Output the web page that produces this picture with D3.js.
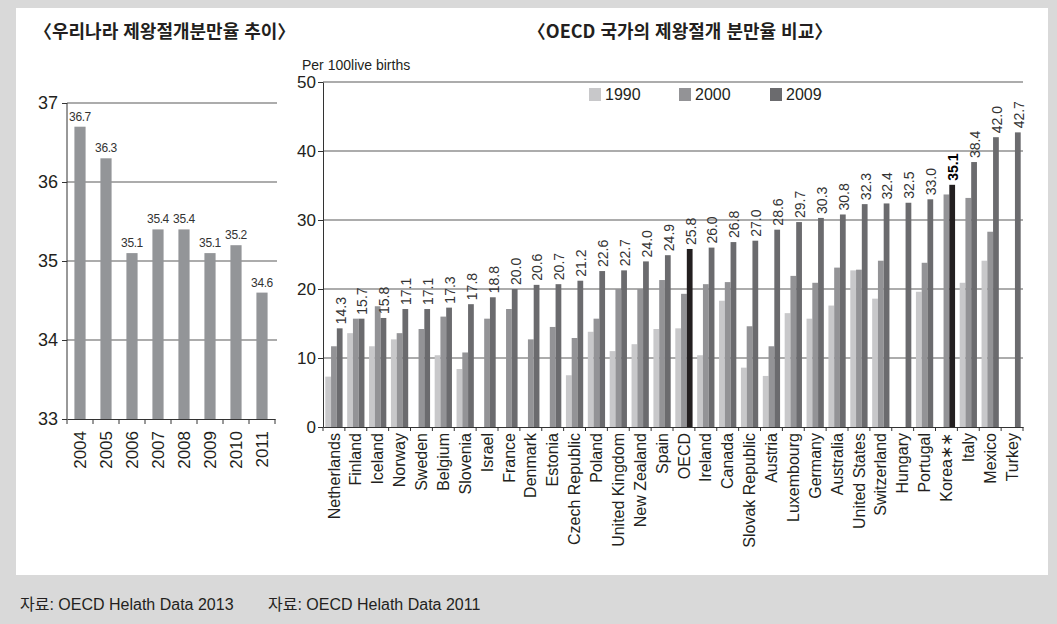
<!DOCTYPE html>
<html lang="ko">
<head>
  <meta charset="UTF-8">
  <title>제왕절개분만율</title>
  <style>
    body {
      margin: 0;
      background-color: #d9d9d9;
    }
    svg text {
      font-family: "Liberation Sans", Arial, "Noto Sans CJK KR", sans-serif;
      fill: #231f20;
    }
    .title {
      font-family: "Noto Sans CJK KR", sans-serif !important;
      font-size: 18px;
      font-weight: bold;
    }
    .grid line {
      stroke: #5a5a5a;
      stroke-width: 1.2;
    }
    .axis path, .axis line {
      stroke: #333;
    }
  </style>
</head>
<body>
  <svg id="chart" width="1057" height="624"></svg>
  <script src="https://d3js.org/d3.v7.min.js"></script>
  <script>
    // left: Korea trend
    const krYears = ['2004', '2005', '2006', '2007', '2008', '2009', '2010', '2011'];
    const krRates = [36.7, 36.3, 35.1, 35.4, 35.4, 35.1, 35.2, 34.6];
    const krTicks = [33, 34, 35, 36, 37];

    // right: OECD comparison
    const countries = ['Netherlands', 'Finland', 'Iceland', 'Norway', 'Sweden', 'Belgium', 'Slovenia',
      'Israel', 'France', 'Denmark', 'Estonia', 'Czech Republic', 'Poland', 'United Kingdom',
      'New Zealand', 'Spain', 'OECD', 'Ireland', 'Canada', 'Slovak Republic', 'Austria',
      'Luxembourg', 'Germany', 'Australia', 'United States', 'Switzerland', 'Hungary',
      'Portugal', 'Korea∗∗', 'Italy', 'Mexico', 'Turkey'];
    const v1990 = [7.3, 13.6, 11.7, 12.7, null, 10.4, 8.4, null, null, null, null, 7.5, 13.8, 11.0,
      12.0, 14.2, 14.3, 10.4, 18.3, 8.6, 7.4, 16.5, 15.7, 17.6, 22.7, 18.6, null, 19.6, null,
      20.9, 24.1, null];
    const v2000 = [11.7, 15.7, 17.5, 13.6, 14.2, 16.0, 10.8, 15.7, 17.1, 12.7, 14.5, 12.9, 15.7,
      20.0, 20.0, 21.3, 19.3, 20.7, 21.0, 14.6, 11.7, 21.9, 20.9, 23.1, 22.8, 24.1, null, 23.8,
      33.7, 33.2, 28.3, null];
    const v2009 = [14.3, 15.7, 15.8, 17.1, 17.1, 17.3, 17.8, 18.8, 20.0, 20.6, 20.7, 21.2, 22.6,
      22.7, 24.0, 24.9, 25.8, 26.0, 26.8, 27.0, 28.6, 29.7, 30.3, 30.8, 32.3, 32.4, 32.5, 33.0,
      35.1, 38.4, 42.0, 42.7];
    const seriesKeys = ['1990', '2000', '2009'];
    const highlighted = ['OECD', 'Korea∗∗'];
    const oecdTicks = [0, 10, 20, 30, 40, 50];

    const colors = { '1990': '#c8c8ca', '2000': '#939396', '2009': '#6b6b6e' };
    const highlightColor = '#231f20';

    const svg = d3.select('#chart');

    svg.append('rect').attr('width', 1057).attr('height', 624).attr('fill', '#d9d9d9');
    svg.append('rect').attr('x', 16).attr('y', 8).attr('width', 1032).attr('height', 567).attr('fill', '#fff');

    // ---------- left chart ----------
    const xL = d3.scaleBand().domain(krYears).range([67, 275]);
    const yL = d3.scaleLinear().domain([33, 37]).range([419, 103]);
    const barW = xL.bandwidth() * 0.43;

    svg.append('text')
      .attr('class', 'title')
      .attr('x', 34)
      .attr('y', 38)
      .text('〈우리나라 제왕절개분만율 추이〉');

    svg.append('g')
      .attr('class', 'grid')
      .selectAll('line')
      .data(krTicks.slice(1))
      .enter()
      .append('line')
      .attr('x1', 67).attr('x2', 277)
      .attr('y1', d => yL(d)).attr('y2', d => yL(d));

    svg.selectAll('.kr-bar')
      .data(krRates)
      .enter()
      .append('rect')
      .attr('class', 'kr-bar')
      .attr('x', (d, i) => xL(krYears[i]) + (xL.bandwidth() - barW) / 2)
      .attr('y', d => yL(d))
      .attr('width', barW)
      .attr('height', d => yL(33) - yL(d))
      .attr('fill', '#939598');

    svg.selectAll('.kr-label')
      .data(krRates)
      .enter()
      .append('text')
      .attr('class', 'kr-label')
      .attr('x', (d, i) => xL(krYears[i]) + xL.bandwidth() / 2)
      .attr('y', d => yL(d) - 6)
      .attr('text-anchor', 'middle')
      .attr('font-size', 12)
      .attr('letter-spacing', -0.4)
      .style('fill', '#333')
      .text(d => d.toFixed(1));

    const yAxisL = svg.append('g')
      .attr('class', 'axis')
      .attr('transform', 'translate(67,0)')
      .call(d3.axisLeft(yL).tickValues(krTicks).tickFormat(d3.format('d')).tickSize(5).tickSizeOuter(0));
    yAxisL.selectAll('text').attr('font-size', 18).attr('x', -9);
    yAxisL.select('.domain').attr('d', `M0,${yL(33)}V${yL(37)}`);

    const xAxisL = svg.append('g')
      .attr('class', 'axis')
      .attr('transform', `translate(0,${yL(33)})`)
      .call(d3.axisBottom(xL).tickSize(0).tickSizeOuter(0));
    xAxisL.selectAll('text')
      .attr('font-size', 17)
      .attr('transform', 'rotate(-90)')
      .attr('text-anchor', 'end')
      .attr('x', -12)
      .attr('y', 0)
      .attr('dy', '0.35em');
    xAxisL.selectAll('.bound')
      .data(krYears.concat(['end']))
      .enter()
      .append('line')
      .attr('class', 'bound')
      .attr('x1', (d, i) => 67 + i * xL.step())
      .attr('x2', (d, i) => 67 + i * xL.step())
      .attr('y1', 0).attr('y2', 5)
      .attr('stroke', '#333');

    // ---------- right chart ----------
    const x0 = d3.scaleBand().domain(countries).range([323, 1023]);
    const x1 = d3.scaleBand().domain(seriesKeys).range([0, x0.bandwidth()]).paddingOuter(0.4);
    const yR = d3.scaleLinear().domain([0, 50]).range([427, 82]);

    svg.append('text')
      .attr('class', 'title')
      .attr('x', 680)
      .attr('y', 38)
      .attr('text-anchor', 'middle')
      .text('〈OECD 국가의 제왕절개 분만율 비교〉');

    svg.append('text')
      .attr('x', 302)
      .attr('y', 70)
      .attr('font-size', 14)
      .text('Per 100live births');

    svg.append('g')
      .attr('class', 'grid')
      .selectAll('line')
      .data(oecdTicks.slice(1))
      .enter()
      .append('line')
      .attr('x1', 323).attr('x2', 1023)
      .attr('y1', d => yR(d)).attr('y2', d => yR(d));

    const seriesData = { '1990': v1990, '2000': v2000, '2009': v2009 };

    const groups = svg.selectAll('.country')
      .data(countries)
      .enter()
      .append('g')
      .attr('class', 'country')
      .attr('transform', d => `translate(${x0(d)},0)`);

    groups.selectAll('rect')
      .data((c, i) => seriesKeys.map(k => ({ key: k, country: c, value: seriesData[k][i] })))
      .enter()
      .filter(d => d.value != null)
      .append('rect')
      .attr('x', d => x1(d.key))
      .attr('y', d => yR(d.value))
      .attr('width', x1.bandwidth())
      .attr('height', d => yR(0) - yR(d.value))
      .attr('fill', d => (d.key === '2009' && highlighted.includes(d.country)) ? highlightColor : colors[d.key]);

    svg.selectAll('.val')
      .data(v2009)
      .enter()
      .append('text')
      .attr('class', 'val')
      .attr('transform', (d, i) => {
        const cx = x0(countries[i]) + x1('2009') + x1.bandwidth() / 2 + 1;
        return `translate(${cx},${yR(d) - 4}) rotate(-90)`;
      })
      .attr('dy', '0.35em')
      .attr('font-size', 14)
      .attr('font-weight', (d, i) => countries[i] === 'Korea∗∗' ? 'bold' : null)
      .style('fill', (d, i) => countries[i] === 'Korea∗∗' ? '#000' : '#333')
      .text(d => d.toFixed(1));

    const yAxisR = svg.append('g')
      .attr('class', 'axis')
      .attr('transform', 'translate(323,0)')
      .call(d3.axisLeft(yR).tickValues(oecdTicks).tickSize(5).tickSizeOuter(0));
    yAxisR.selectAll('text').attr('font-size', 17).attr('x', -7);

    const xAxisR = svg.append('g')
      .attr('class', 'axis')
      .attr('transform', `translate(0,${yR(0)})`)
      .call(d3.axisBottom(x0).tickSize(0).tickSizeOuter(0));
    xAxisR.selectAll('text')
      .attr('font-size', 16)
      .attr('transform', 'rotate(-90)')
      .attr('text-anchor', 'end')
      .attr('x', -6)
      .attr('y', 0)
      .attr('dy', '0.35em');
    xAxisR.selectAll('.bound')
      .data(countries.concat(['end']))
      .enter()
      .append('line')
      .attr('class', 'bound')
      .attr('x1', (d, i) => 323 + i * x0.step())
      .attr('x2', (d, i) => 323 + i * x0.step())
      .attr('y1', 0).attr('y2', 4)
      .attr('stroke', '#333');

    // legend
    const legend = svg.selectAll('.legend')
      .data(seriesKeys)
      .enter()
      .append('g')
      .attr('class', 'legend')
      .attr('transform', (d, i) => `translate(${[589, 679, 770][i]},88)`);
    legend.append('rect').attr('width', 12).attr('height', 13).attr('fill', d => colors[d]);
    legend.append('text').attr('x', 16).attr('y', 12).attr('font-size', 16).text(d => d);

    // sources
    svg.append('text').attr('x', 20).attr('y', 610).attr('font-size', 16).text('자료: OECD Helath Data 2013');
    svg.append('text').attr('x', 268).attr('y', 610).attr('font-size', 16).text('자료: OECD Helath Data 2011');
  </script>
</body>
</html>
